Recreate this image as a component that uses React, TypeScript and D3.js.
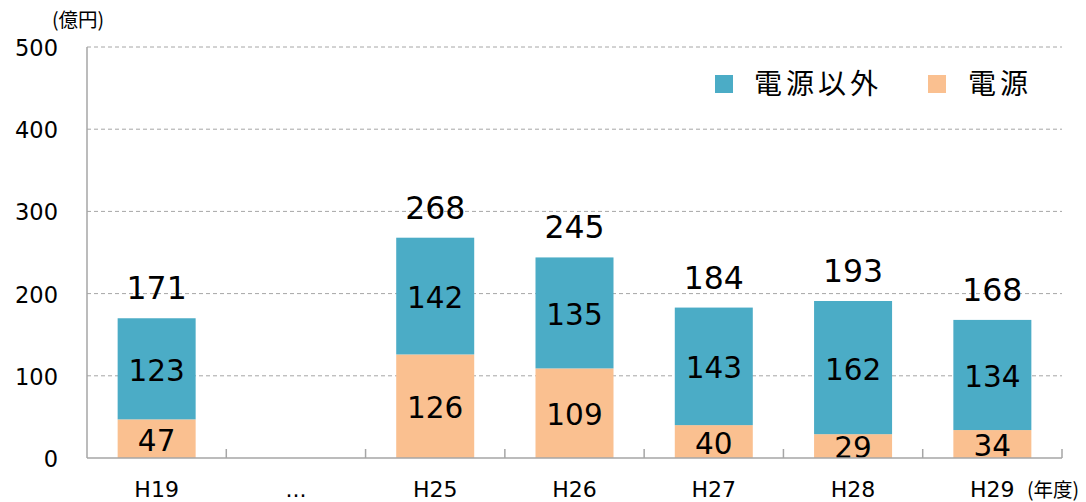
import * as d3 from 'd3';

// ── Data ──────────────────────────────────────────────────────────────────────
const CATEGORIES = ['H19', '…', 'H25', 'H26', 'H27', 'H28', 'H29'];
const DENGEN     = [47, null, 126, 109, 40, 29, 34];      // 電源 (bottom)
const OTHER      = [123, null, 142, 135, 143, 162, 134];  // 電源以外 (top)
const TOTALS     = [171, null, 268, 245, 184, 193, 168];
const Y_TICKS    = [0, 100, 200, 300, 400, 500];

// ── Layout ────────────────────────────────────────────────────────────────────
const W = 1086;
const H = 502;
const X0 = 87, X1 = 1062;
const Y0 = 458, Y1 = 47;

const TEAL   = '#4BACC6';
const ORANGE = '#FAC090';
const AXIS   = '#a6a6a6';
const FONT   = '"DejaVu Sans", "Noto Sans CJK JP", sans-serif';
const JP     = '"Noto Sans CJK JP", sans-serif';

export default function App() {
  const x = d3.scaleBand<string>().domain(CATEGORIES).range([X0, X1]).paddingInner(0.44).paddingOuter(0.22);
  const band = d3.scaleBand<string>().domain(CATEGORIES).range([X0, X1]);
  const y = d3.scaleLinear().domain([0, 500]).range([Y0, Y1]);
  const BW = x.bandwidth();

  return (
    <svg width={W} height={H} style={{ position: 'absolute', left: 0, top: 0, background: '#fff' }} fontFamily={FONT}>
      {/* gridlines */}
      {Y_TICKS.filter(v => v > 0).map(v => (
        <line key={v} x1={X0} x2={X1} y1={y(v)} y2={y(v)} stroke="#a6a6a6" strokeWidth={1} strokeDasharray="4,3" />
      ))}
      {/* y tick labels */}
      {Y_TICKS.map(v => (
        <text key={v} x={58} y={y(v) + 1} textAnchor="end" dominantBaseline="central" fontSize={22.5} fill="#000">{v}</text>
      ))}
      <text x={52} y={27} fontSize={19.5} fontFamily={JP} fill="#000">(億円)</text>

      {/* bars */}
      {CATEGORIES.map((c, i) => {
        const d = DENGEN[i], o = OTHER[i];
        if (d == null || o == null) return null;
        const bx = x(c) ?? 0;
        const cx = bx + BW / 2;
        return (
          <g key={c}>
            <rect x={bx} y={y(d)} width={BW} height={Y0 - y(d)} fill={ORANGE} />
            <rect x={bx} y={y(d + o)} width={BW} height={y(d) - y(d + o)} fill={TEAL} />
            <text x={cx} y={y(d / 2) + 2} textAnchor="middle" dominantBaseline="central" fontSize={29.5} fill="#000">{d}</text>
            <text x={cx} y={y(d + o / 2) + 2} textAnchor="middle" dominantBaseline="central" fontSize={29.5} fill="#000">{o}</text>
            <text x={cx} y={y(d + o) - 19} textAnchor="middle" fontSize={31.5} fill="#000">{TOTALS[i]}</text>
          </g>
        );
      })}

      {/* axes */}
      <line x1={X0} x2={X0} y1={Y1} y2={Y0} stroke={AXIS} strokeWidth={1.5} />
      <line x1={X0} x2={X1} y1={Y0} y2={Y0} stroke={AXIS} strokeWidth={1.5} />
      {CATEGORIES.map(c => {
        const tx = (band(c) ?? 0) + band.bandwidth();
        return <line key={c} x1={tx} x2={tx} y1={Y0 - 9} y2={Y0} stroke={AXIS} strokeWidth={1.5} />;
      })}
      {CATEGORIES.map(c => (
        <text key={c} x={(band(c) ?? 0) + band.bandwidth() / 2} y={497} textAnchor="middle" fontSize={22} fill="#000">{c === '…' ? '...' : c}</text>
      ))}
      <text x={1027} y={497} fontSize={19.5} fontFamily={JP} fill="#000">(年度)</text>

      {/* legend */}
      <rect x={715} y={75} width={18} height={18} fill={TEAL} />
      <text x={754} y={94} fontSize={28} fontFamily={JP} letterSpacing={4} fill="#000">電源以外</text>
      <rect x={928} y={75} width={18} height={18} fill={ORANGE} />
      <text x={968} y={94} fontSize={28} fontFamily={JP} letterSpacing={4} fill="#000">電源</text>
    </svg>
  );
}
